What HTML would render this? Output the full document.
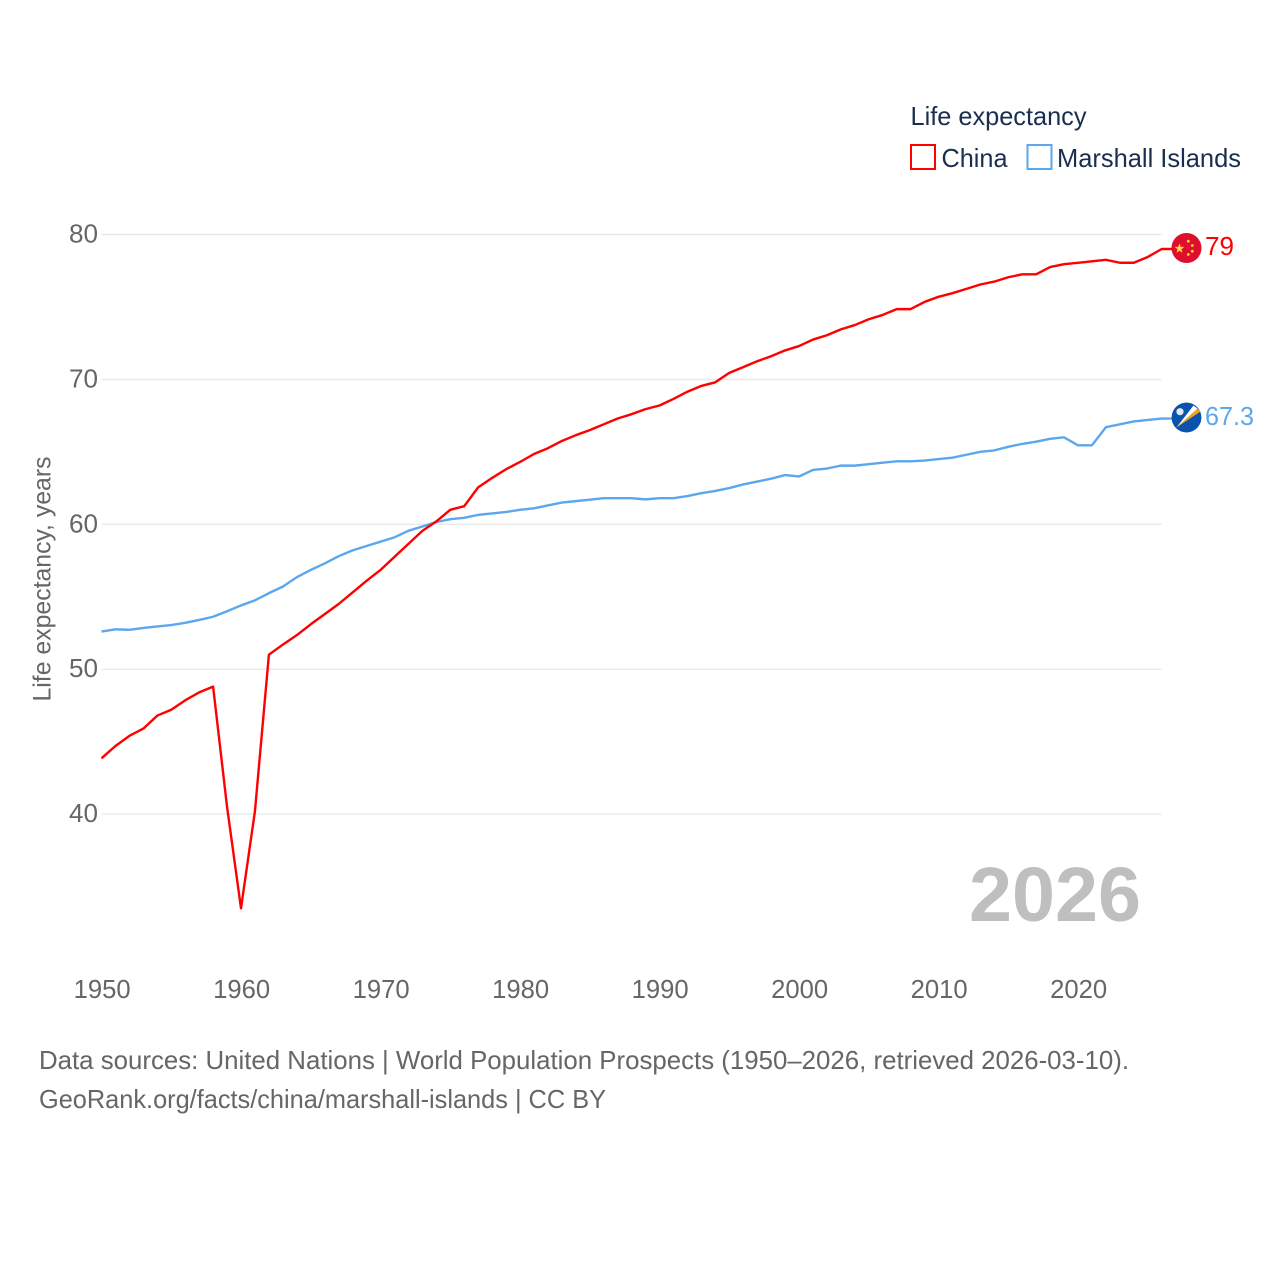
<!DOCTYPE html>
<html lang="en">
<head>
<meta charset="utf-8">
<title>Life expectancy: China and Marshall Islands</title>
<style>
  html, body { margin: 0; padding: 0; background: #fff; }
  svg { display: block; }
  text { font-family: "Liberation Sans", sans-serif; }
</style>
</head>
<body>
<svg id="chart" xmlns="http://www.w3.org/2000/svg" width="1280" height="1280" viewBox="0 0 1280 1280">
  <rect x="0" y="0" width="1280" height="1280" fill="#ffffff"/>
  <g id="grid"></g>
  <g id="yticks"></g>
  <g id="xticks"></g>
  <text transform="translate(50.5,579) rotate(-90)" text-anchor="middle" font-size="25" fill="#666666" textLength="245" lengthAdjust="spacingAndGlyphs">Life expectancy, years</text>
  <text x="969" y="921" font-size="77" font-weight="700" fill="#bfbfbf" textLength="172" lengthAdjust="spacingAndGlyphs">2026</text>
  <g id="series"></g>

  <g>
    <text x="910.5" y="125" font-size="26" fill="#1a2f4f" textLength="176" lengthAdjust="spacingAndGlyphs">Life expectancy</text>
    <rect x="911" y="145" width="24" height="24" fill="none" stroke="#ff0000" stroke-width="2"/>
    <text x="941.5" y="167" font-size="26" fill="#1a2f4f" textLength="66" lengthAdjust="spacingAndGlyphs">China</text>
    <rect x="1027.5" y="145" width="24" height="24" fill="none" stroke="#5ba7ee" stroke-width="2"/>
    <text x="1057" y="167" font-size="26" fill="#1a2f4f" textLength="184" lengthAdjust="spacingAndGlyphs">Marshall Islands</text>
  </g>

  <g transform="translate(1186.5,248)">
    <circle r="15" fill="#de0f2e"/>
    <polygon fill="#ffd23c" points="-7,-4.5 -5.7,-1.1 -2.1,-1.1 -5,1.2 -4,4.7 -7,2.7 -10,4.7 -9,1.2 -11.9,-1.1 -8.3,-1.1"/>
    <circle cx="1.8" cy="-6.8" r="1.4" fill="#ffd23c"/>
    <circle cx="5.8" cy="-2.5" r="1.4" fill="#ffd23c"/>
    <circle cx="5.8" cy="3.2" r="1.4" fill="#ffd23c"/>
    <circle cx="1.8" cy="6.5" r="1.4" fill="#ffd23c"/>
  </g>
  <text x="1205" y="255" font-size="26" fill="#ff0000" textLength="29" lengthAdjust="spacingAndGlyphs">79</text>

  <g transform="translate(1186.5,417.5)">
    <defs>
      <clipPath id="mh-clip"><circle r="15"/></clipPath>
    </defs>
    <g clip-path="url(#mh-clip)">
      <circle r="15" fill="#0b52ad"/>
      <polygon fill="#f5a21f" points="-10,10 11,-9 14,-6"/>
      <polygon fill="#ffffff" points="-10,10 7,-12 11,-9"/>
      <circle cx="-6.5" cy="-5.8" r="3.6" fill="#dfe8f3"/>
    </g>
  </g>
  <text x="1205" y="425" font-size="26" fill="#5ba7ee" textLength="49" lengthAdjust="spacingAndGlyphs">67.3</text>

  <g>
    <text x="39" y="1069" font-size="26" fill="#666666" textLength="1090" lengthAdjust="spacingAndGlyphs">Data sources: United Nations | World Population Prospects (1950–2026, retrieved 2026-03-10).</text>
    <text x="39" y="1108" font-size="26" fill="#666666" textLength="567" lengthAdjust="spacingAndGlyphs">GeoRank.org/facts/china/marshall-islands | CC BY</text>
  </g>
</svg>
<script>
const startYear = 1950;
const xTickLabels = [1950, 1960, 1970, 1980, 1990, 2000, 2010, 2020];
const yTickLabels = [40, 50, 60, 70, 80];
const chinaValues = [43.85, 44.7, 45.4, 45.9, 46.8, 47.2, 47.85, 48.4, 48.8, 40.5,
  33.5, 40.2, 51.0, 51.7, 52.35, 53.1, 53.8, 54.5, 55.3, 56.1,
  56.85, 57.75, 58.65, 59.55, 60.2, 61.0, 61.25, 62.55, 63.2, 63.8,
  64.3, 64.85, 65.25, 65.75, 66.15, 66.5, 66.9, 67.3, 67.6, 67.95,
  68.2, 68.65, 69.15, 69.55, 69.8, 70.45, 70.85, 71.25, 71.6, 72.0,
  72.3, 72.75, 73.05, 73.45, 73.75, 74.15, 74.45, 74.85, 74.85, 75.35,
  75.7, 75.95, 76.25, 76.55, 76.75, 77.05, 77.25, 77.25, 77.75, 77.95,
  78.05, 78.15, 78.25, 78.05, 78.05, 78.45, 79.0];
const marshallValues = [52.6, 52.75, 52.72, 52.85, 52.95, 53.05, 53.2, 53.4, 53.62, 54.0,
  54.4, 54.75, 55.25, 55.7, 56.35, 56.85, 57.3, 57.8, 58.2, 58.5,
  58.8, 59.1, 59.55, 59.85, 60.15, 60.35, 60.45, 60.65, 60.75, 60.85,
  61.0, 61.1, 61.3, 61.5, 61.6, 61.7, 61.8, 61.8, 61.8, 61.72,
  61.8, 61.8, 61.95, 62.15, 62.3, 62.5, 62.75, 62.95, 63.15, 63.4,
  63.3, 63.75, 63.85, 64.05, 64.05, 64.15, 64.25, 64.35, 64.35, 64.4,
  64.5, 64.6, 64.8, 65.0, 65.1, 65.35, 65.55, 65.7, 65.9, 66.0,
  65.45, 65.45, 66.7, 66.9, 67.1, 67.2, 67.3];

const NS = 'http://www.w3.org/2000/svg';
function xScale(year) { return 101.5 + (year - 1950) * 13.95; }
function yScale(value) { return 234.5 + (80 - value) * 14.49; }
function make(tag, attrs, parent) {
  const el = document.createElementNS(NS, tag);
  for (const key in attrs) { el.setAttribute(key, attrs[key]); }
  parent.appendChild(el);
  return el;
}

const gridGroup = document.getElementById('grid');
const yGroup = document.getElementById('yticks');
const xGroup = document.getElementById('xticks');
const seriesGroup = document.getElementById('series');

yTickLabels.forEach(function (tick) {
  const line = make('line', { x1: 101.5, x2: 1161.5, y1: yScale(tick), y2: yScale(tick), stroke: '#e9e9e9', 'stroke-width': 1.4 }, gridGroup);
  
  
  const label = make('text', { x: 98, y: yScale(tick) + 8, 'text-anchor': 'end', 'font-size': 25.5, fill: '#666666', textLength: 29, lengthAdjust: 'spacingAndGlyphs' }, yGroup);
  
  
  label.textContent = String(tick);
});

xTickLabels.forEach(function (tick) {
  const label = make('text', { x: xScale(tick) + 0.7, y: 998, 'text-anchor': 'middle', 'font-size': 25.5, fill: '#666666', textLength: 57, lengthAdjust: 'spacingAndGlyphs' }, xGroup);
  
  
  label.textContent = String(tick);
});

function drawSeries(values, color, name) {
  const points = values.map(function (value, i) {
    return xScale(startYear + i).toFixed(2) + ',' + yScale(value).toFixed(2);
  });
  const lastY = yScale(values[values.length - 1]).toFixed(2);
  points.push('1172,' + lastY);
  const line = make('polyline', { points: points.join(' '), fill: 'none', stroke: color, 'stroke-width': 2.4, 'stroke-linejoin': 'round' }, seriesGroup);
  
  
}

drawSeries(marshallValues, '#5ba7ee', 'marshall-islands-line');
drawSeries(chinaValues, '#ff0000', 'china-line');
</script>
</body>
</html>
